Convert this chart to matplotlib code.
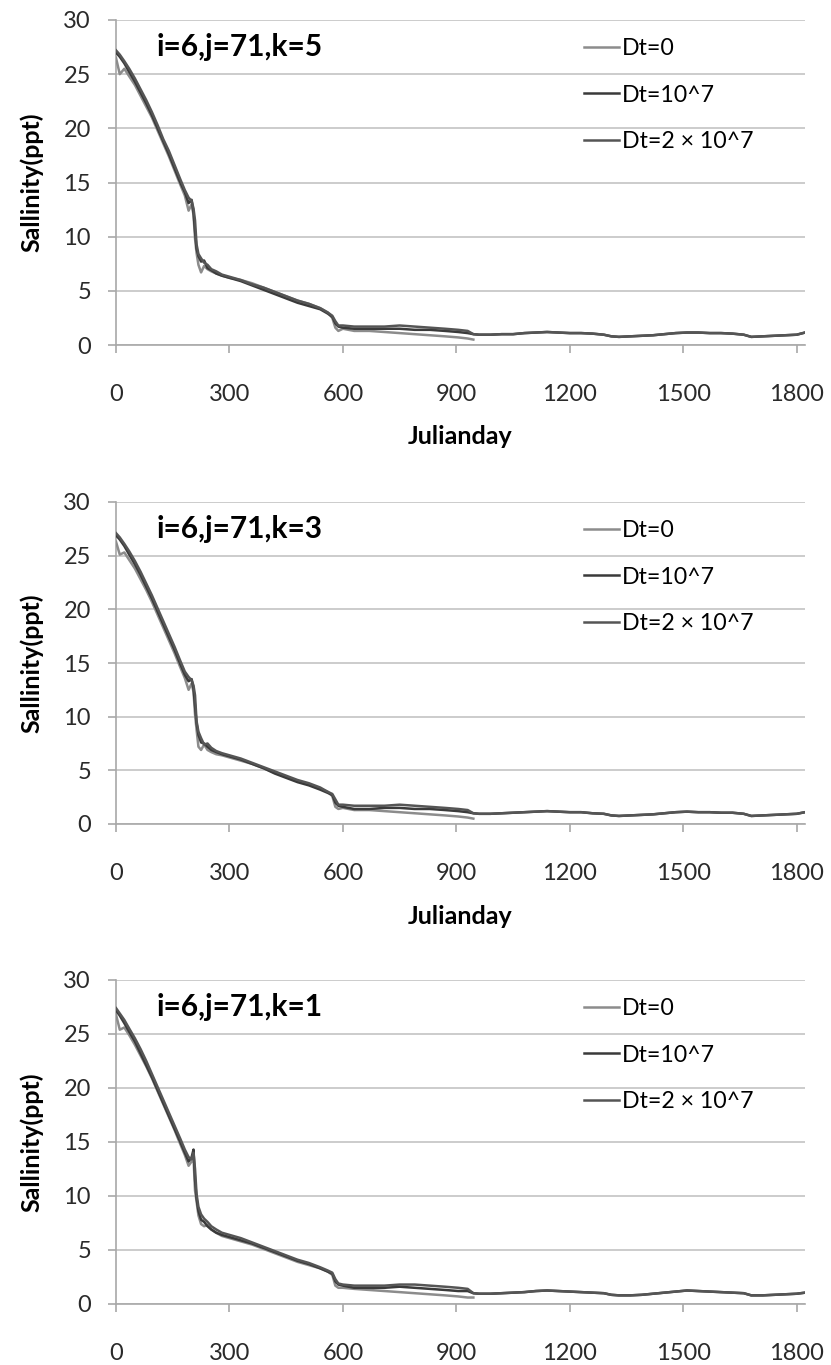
import matplotlib.pyplot as plt

plt.rcParams['font.family'] = ['Lato', 'DejaVu Sans']

# days sampled along the fast-changing first part (shared by all curves)
days = [0, 10, 22, 35, 50, 65, 80, 95, 110, 125, 140, 155, 170, 182, 192, 200, 205, 209, 213, 218,
        225, 233, 242, 252, 265, 280, 300, 330, 360, 390, 420, 450, 480, 510, 540, 560, 572, 580, 588, 600,
        630, 670, 710, 750, 790, 830, 870, 905, 930, 945]
# days for the common tail (after the Dt=0 run stops)
tail_days = [945, 960, 990, 1020, 1050, 1080, 1110, 1140, 1170, 1200, 1230, 1260, 1290, 1310, 1330, 1360,
             1390, 1420, 1450, 1480, 1510, 1540, 1570, 1600, 1630, 1660, 1680, 1710, 1740, 1770, 1800, 1822]

# k=5
k5_dt0 = [26.5, 25.0, 25.5, 24.8, 24.0, 23.0, 22.0, 21.0, 19.8, 18.6, 17.4, 16.1, 14.8, 13.8, 12.4, 13.0, 12.0, 9.8, 8.5, 7.4,
          6.7, 7.3, 7.0, 6.8, 6.6, 6.4, 6.2, 6.0, 5.7, 5.3, 4.9, 4.5, 4.1, 3.8, 3.4, 3.0, 2.5, 1.6, 1.3, 1.5,
          1.3, 1.3, 1.2, 1.1, 1.0, 0.9, 0.8, 0.7, 0.6, 0.5]
k5_dt1 = [27.0, 26.6, 26.0, 25.2, 24.3, 23.3, 22.3, 21.2, 20.0, 18.8, 17.6, 16.3, 15.0, 14.1, 13.1, 13.4, 12.2, 10.5, 8.9, 8.2,
          7.7, 7.8, 7.1, 6.9, 6.6, 6.4, 6.2, 5.9, 5.5, 5.1, 4.7, 4.3, 3.9, 3.6, 3.3, 2.9, 2.6, 2.0, 1.7, 1.6,
          1.5, 1.5, 1.5, 1.5, 1.4, 1.4, 1.3, 1.2, 1.1, 1.0]
k5_dt2 = [27.2, 26.8, 26.2, 25.5, 24.6, 23.6, 22.6, 21.5, 20.3, 19.0, 17.9, 16.6, 15.3, 14.3, 13.6, 13.3, 12.6, 11.5, 9.3, 8.4,
          8.0, 7.6, 7.4, 7.0, 6.8, 6.5, 6.3, 6.0, 5.6, 5.3, 4.9, 4.5, 4.1, 3.8, 3.4, 3.0, 2.7, 2.2, 1.8, 1.8,
          1.7, 1.7, 1.7, 1.8, 1.7, 1.6, 1.5, 1.4, 1.3, 1.0]
k5_tail = [1.0, 0.95, 0.95, 1.0, 1.0, 1.1, 1.15, 1.2, 1.15, 1.1, 1.1, 1.05, 0.95, 0.8, 0.75, 0.8,
           0.85, 0.9, 1.0, 1.1, 1.15, 1.15, 1.1, 1.1, 1.05, 0.95, 0.75, 0.8, 0.85, 0.9, 0.95, 1.15]

# k=3
k3_dt0 = [26.3, 25.1, 25.3, 24.6, 23.8, 22.8, 21.8, 20.7, 19.5, 18.3, 17.1, 15.9, 14.6, 13.6, 12.5, 13.1, 12.3, 10.2, 8.8, 7.2,
          6.9, 7.4, 6.9, 6.7, 6.5, 6.4, 6.2, 5.9, 5.6, 5.2, 4.8, 4.4, 4.0, 3.7, 3.3, 3.0, 2.6, 1.6, 1.4, 1.5,
          1.3, 1.3, 1.2, 1.1, 1.0, 0.9, 0.8, 0.7, 0.6, 0.5]
k3_dt1 = [26.9, 26.5, 25.9, 25.1, 24.2, 23.2, 22.1, 21.0, 19.8, 18.6, 17.4, 16.2, 14.9, 13.9, 13.3, 13.5, 12.6, 11.0, 9.4, 8.3,
          7.6, 7.5, 7.2, 6.9, 6.7, 6.5, 6.3, 6.0, 5.6, 5.2, 4.7, 4.3, 3.9, 3.6, 3.2, 2.9, 2.7, 2.0, 1.7, 1.6,
          1.4, 1.4, 1.5, 1.5, 1.4, 1.4, 1.3, 1.2, 1.1, 1.0]
k3_dt2 = [27.1, 26.7, 26.1, 25.4, 24.5, 23.5, 22.4, 21.3, 20.1, 18.9, 17.7, 16.5, 15.2, 14.2, 13.7, 13.4, 12.9, 12.0, 9.6, 8.6,
          8.0, 7.4, 7.5, 7.1, 6.8, 6.6, 6.4, 6.1, 5.7, 5.3, 4.9, 4.5, 4.1, 3.8, 3.4, 3.0, 2.8, 2.3, 1.8, 1.8,
          1.7, 1.7, 1.7, 1.8, 1.7, 1.6, 1.5, 1.4, 1.3, 1.0]
k3_tail = [1.0, 0.95, 0.95, 1.0, 1.05, 1.1, 1.15, 1.2, 1.15, 1.1, 1.1, 1.0, 0.95, 0.8, 0.75, 0.8,
           0.85, 0.9, 1.0, 1.1, 1.15, 1.1, 1.1, 1.05, 1.05, 0.95, 0.75, 0.8, 0.85, 0.9, 0.95, 1.1]

# k=1
k1_dt0 = [26.8, 25.4, 25.6, 24.9, 24.0, 23.0, 22.0, 20.9, 19.7, 18.5, 17.3, 16.1, 14.8, 13.8, 12.8, 13.2, 13.5, 10.5, 9.5, 8.2,
          7.4, 7.2, 7.3, 6.9, 6.6, 6.3, 6.1, 5.8, 5.5, 5.1, 4.7, 4.3, 3.9, 3.6, 3.3, 3.0, 2.7, 1.7, 1.5, 1.5,
          1.4, 1.3, 1.2, 1.1, 1.0, 0.9, 0.8, 0.7, 0.6, 0.6]
k1_dt1 = [27.2, 26.7, 26.0, 25.2, 24.3, 23.2, 22.1, 21.0, 19.8, 18.6, 17.4, 16.2, 15.0, 14.0, 13.2, 13.6, 14.3, 11.5, 9.8, 8.6,
          7.8, 7.6, 7.2, 6.9, 6.6, 6.4, 6.2, 5.9, 5.6, 5.2, 4.8, 4.4, 4.0, 3.7, 3.3, 3.0, 2.8, 2.1, 1.8, 1.7,
          1.5, 1.5, 1.5, 1.6, 1.5, 1.4, 1.3, 1.2, 1.2, 1.0]
k1_dt2 = [27.4, 26.9, 26.3, 25.5, 24.6, 23.6, 22.5, 21.3, 20.1, 18.9, 17.7, 16.5, 15.3, 14.3, 13.6, 13.4, 14.0, 12.5, 10.2, 9.0,
          8.3, 7.9, 7.6, 7.2, 6.9, 6.6, 6.4, 6.1, 5.7, 5.3, 4.9, 4.5, 4.1, 3.8, 3.4, 3.1, 2.9, 2.3, 1.9, 1.8,
          1.7, 1.7, 1.7, 1.8, 1.8, 1.7, 1.6, 1.5, 1.4, 1.0]
k1_tail = [1.0, 0.95, 0.95, 1.0, 1.05, 1.1, 1.2, 1.25, 1.2, 1.15, 1.1, 1.05, 1.0, 0.85, 0.8, 0.8,
           0.85, 0.95, 1.05, 1.15, 1.25, 1.2, 1.15, 1.1, 1.05, 1.0, 0.8, 0.8, 0.85, 0.9, 0.95, 1.05]

titles = ['i=6,j=71,k=5', 'i=6,j=71,k=3', 'i=6,j=71,k=1']
labels = ['Dt=0', 'Dt=10^7', 'Dt=2 \u00d7 10^7']
colors = ['#8c8c8c', '#3a3a3a', '#555555']
xticks = [0, 300, 600, 900, 1200, 1500, 1800]
yticks = [0, 5, 10, 15, 20, 25, 30]

panels = [
    (k5_dt0, k5_dt1, k5_dt2, k5_tail),
    (k3_dt0, k3_dt1, k3_dt2, k3_tail),
    (k1_dt0, k1_dt1, k1_dt2, k1_tail),
]

W, H = 831, 1365
fig = plt.figure(figsize=(W / 100, H / 100), dpi=100)
fig.patch.set_facecolor('white')

# pixel boxes (top, bottom) of each plot area
boxes = [(20, 345), (502, 824), (980, 1304)]
left, right = 116, 805
aw = right - left

for p, ((top, bot), data) in enumerate(zip(boxes, panels)):
    ah = bot - top
    ax = fig.add_axes([left / W, 1 - bot / H, aw / W, ah / H])
    dt0, dt1, dt2, tail = data

    ax.plot(days, dt0, color=colors[0], lw=1.8, label=labels[0], zorder=3)
    ax.plot(days + tail_days[1:], dt1 + tail[1:], color=colors[1], lw=1.8, label=labels[1], zorder=4)
    ax.plot(days + tail_days[1:], dt2 + tail[1:], color=colors[2], lw=1.8, label=labels[2], zorder=5)

    ax.set_xlim(0, 1822)
    ax.set_ylim(0, 30)
    ax.set_xticks(xticks)
    ax.set_yticks(yticks)
    ax.grid(axis='y', color='#c4c4c4', lw=1.2)
    ax.set_axisbelow(True)
    for s in ['top', 'right']:
        ax.spines[s].set_visible(False)
    for s in ['left', 'bottom']:
        ax.spines[s].set_color('#a8a8a8')
        ax.spines[s].set_linewidth(1.2)
    ax.tick_params(axis='x', direction='out', length=6, width=1.2, color='#a8a8a8',
                   labelsize=17, labelcolor='#2a2a2a', pad=22)
    ax.tick_params(axis='y', direction='out', length=6, width=1.2, color='#a8a8a8',
                   labelsize=17, labelcolor='#2a2a2a', pad=12)

    ax.text((32 - left) / aw, 0.5, 'Sallinity(ppt)', transform=ax.transAxes, rotation=90,
            fontsize=18, fontweight='bold', ha='center', va='center')
    ax.text((157 - left) / aw, 1 - 27 / ah, titles[p], transform=ax.transAxes, fontsize=21.5,
            fontweight='bold', ha='left', va='center')
    if p < 2:
        ax.text(0.5, -92 / ah, 'Julianday', transform=ax.transAxes, fontsize=18,
                fontweight='bold', ha='center', va='center')

    ax.legend(loc='upper left', bbox_to_anchor=(0.679, 1 - 18 / ah), frameon=False, fontsize=16.7,
              handlelength=1.5, handletextpad=0.15, labelspacing=1.1, borderpad=0, borderaxespad=0)

fig.savefig('out.png', dpi=100, facecolor='white')
